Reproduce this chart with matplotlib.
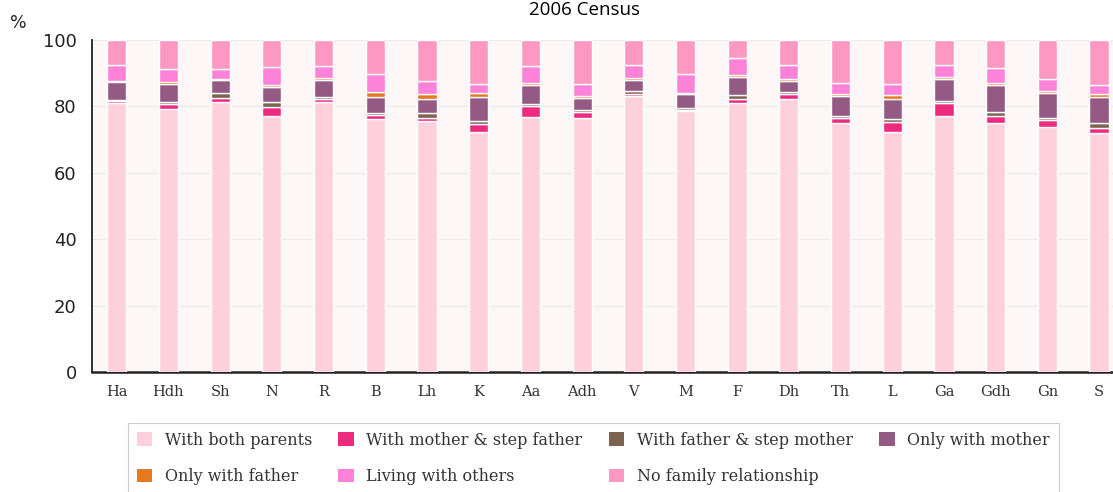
import numpy as np
import matplotlib as mpl
import matplotlib.pyplot as plt
from matplotlib.patches import Patch

mpl.use('Agg')

# areas
areas = ['Ha', 'Hdh', 'Sh', 'N', 'R', 'B', 'Lh', 'K', 'Aa', 'Adh',
         'V', 'M', 'F', 'Dh', 'Th', 'L', 'Ga', 'Gdh', 'Gn', 'S']

# % of children by living arrangement (bottom to top of each bar)
both_parents = [81.0, 79.2, 81.4, 77.2, 81.4, 76.3, 75.6, 72.2, 76.9, 76.4,
                83.0, 78.5, 80.9, 82.1, 75.1, 72.3, 77.0, 75.1, 73.9, 72.0]
mother_stepfather = [0.7, 1.5, 1.0, 2.7, 0.8, 1.0, 0.8, 2.6, 3.1, 1.8,
                     0.8, 0.5, 1.3, 1.7, 1.5, 3.0, 4.0, 2.0, 2.0, 1.6]
father_stepmother = [0.3, 0.6, 1.5, 1.5, 0.6, 0.6, 1.6, 0.8, 0.6, 0.6,
                     0.8, 0.4, 1.2, 0.6, 0.6, 0.8, 0.6, 1.3, 0.6, 1.3]
only_mother = [5.5, 5.3, 4.0, 4.5, 5.3, 4.8, 4.3, 7.2, 5.8, 3.6,
               3.4, 4.2, 5.6, 3.4, 5.8, 6.0, 6.8, 8.0, 7.4, 8.0]
only_father = [0.2, 0.9, 0.5, 0.4, 0.4, 1.5, 1.5, 1.2, 0.5, 0.6,
               0.5, 0.5, 0.6, 0.6, 0.6, 1.2, 0.5, 0.6, 0.6, 0.7]
with_others = [4.8, 3.8, 2.8, 5.5, 3.7, 5.6, 3.8, 2.8, 5.3, 3.6,
               4.0, 5.8, 4.9, 4.0, 3.5, 3.3, 3.5, 4.7, 3.8, 2.8]
no_family = [7.5, 8.7, 8.8, 8.2, 7.8, 10.2, 12.4, 13.2, 7.8, 13.4,
             7.5, 10.1, 5.5, 7.6, 12.9, 13.4, 7.6, 8.3, 11.7, 13.6]

labels = ['With both parents', 'With mother & step father',
          'With father & step mother', 'Only with mother',
          'Only with father', 'Living with others', 'No family relationship']
colors = ['#fdd0dc', '#ee2a7f', '#7b6350', '#955a83',
          '#e5791f', '#fd82d8', '#fd98c3']
series = [both_parents, mother_stepfather, father_stepmother, only_mother,
          only_father, with_others, no_family]

fig = plt.figure(figsize=(11.13, 4.92), dpi=100)
ax = fig.add_axes([92 / 1113, 1 - 372 / 492, 1 - 92 / 1113, (372 - 40) / 492])
ax.set_facecolor('#fdf8f7')

x = np.arange(len(areas))
bottom = np.zeros(len(areas))
for vals, col in zip(series, colors):
    ax.bar(x, vals, width=0.37, bottom=bottom, color=col,
           edgecolor='white', linewidth=1.0, zorder=3)
    bottom += np.array(vals)

ax.set_xlim(-0.48, 19.27)
ax.set_ylim(0, 100)
ax.set_yticks([0, 20, 40, 60, 80, 100])
ax.tick_params(axis='y', length=0, pad=11, labelsize=13, labelcolor='#222222')
ax.set_xticks(x)
ax.set_xticklabels(areas, family='DejaVu Serif', fontsize=10.5, color='#333333')
ax.tick_params(axis='x', length=0, pad=9)
ax.grid(axis='y', color='#eee8e8', linewidth=0.8, zorder=0)

for s in ['top', 'right']:
    ax.spines[s].set_visible(False)
ax.spines['left'].set_linewidth(1.3)
ax.spines['bottom'].set_linewidth(1.8)
ax.spines['left'].set_color('#222222')
ax.spines['bottom'].set_color('#222222')

# title sits right at the top edge
fig.text(585 / 1113, 1 - 15 / 492, '2006 Census', ha='center', va='baseline',
         fontsize=13.5, family='Open Sans')
fig.text(10 / 1113, 1 - 28 / 492, '%', fontsize=12.5, color='#222222')

# legend: row-major order with 4 columns
handles = [Patch(facecolor=c, edgecolor='none') for c in colors]
order = [0, 4, 1, 5, 2, 6, 3]
leg = fig.legend([handles[i] for i in order], [labels[i] for i in order],
                 loc='upper left', bbox_to_anchor=(128 / 1113, 1 - 423 / 492),
                 borderaxespad=0, ncol=4, fancybox=False, framealpha=1,
                 edgecolor='#cccccc',
                 prop={'family': 'DejaVu Serif', 'size': 11.5},
                 handlelength=0.95, handleheight=0.95, handletextpad=0.8,
                 columnspacing=1.65, labelspacing=1.2, borderpad=0.55)
leg.get_frame().set_linewidth(0.8)
for t in leg.get_texts():
    t.set_color('#333333')

fig.savefig('out.png', dpi=100)
